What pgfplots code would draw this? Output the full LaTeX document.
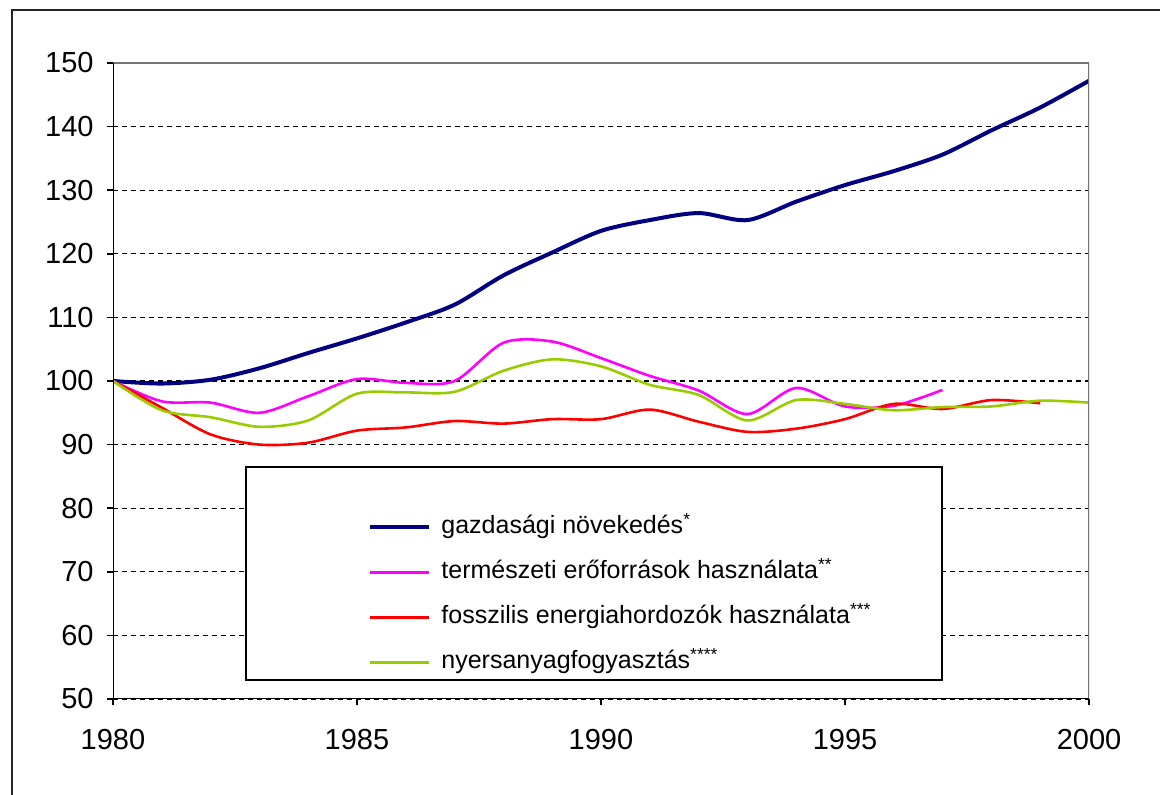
\documentclass[border=0pt]{standalone}
\usepackage{fontspec}
\setmainfont{Liberation Sans}
\usepackage{pgfplots}
\pgfplotsset{compat=1.18}
\definecolor{cblue}{RGB}{0,0,128}
\definecolor{cmag}{RGB}{255,0,255}
\definecolor{cred}{RGB}{255,0,0}
\definecolor{cgreen}{RGB}{153,204,0}
\begin{document}
\begin{tikzpicture}
\useasboundingbox (0pt,0pt) rectangle (580pt,397.5pt);
\draw[line width=1pt, black!85] (6pt,0pt) -- (6pt,392.5pt) -- (580pt,392.5pt);
\begin{axis}[
  at={(56.5pt,48pt)}, anchor=south west,
  scale only axis, width=488pt, height=318pt,
  xmin=1980, xmax=2000, ymin=50, ymax=150,
  xtick={1980,1985,1990,1995,2000},
  ytick={50,60,70,80,90,100,110,120,130,140,150},
  tick pos=left, tick align=outside, major tick length=3pt,
  tick style={black, line width=0.8pt},
  axis line style={draw=none},
  /pgf/number format/assume math mode=true,
  /pgf/number format/1000 sep={},
  ticklabel style={font=\fontsize{14.5}{16}\selectfont},
  yticklabel style={xshift=-3.2pt},
  xticklabel style={yshift=-8.5pt},
  ymajorgrids,
  grid style={black, line width=0.6pt, dash pattern=on 2.5pt off 2pt},
  legend image code/.code={\draw[#1] (0pt,0pt) -- (29.5pt,0pt);},
  legend style={at={(rel axis cs:0.2613,0.2885)}, anchor=north west,
    draw=none, fill=none, inner sep=0pt, row sep=11pt, column sep=5pt,
    font=\fontsize{12.5}{14}\selectfont,
    nodes={inner sep=0pt, text height=9pt, text depth=2.5pt},
    cells={anchor=west}},
  legend cell align=left,
]
\addplot[cblue, line width=2pt, smooth, tension=0.5] coordinates {
(1980,100) (1981,99.6) (1982,100.2) (1983,102.0) (1984,104.4) (1985,106.7)
(1986,109.2) (1987,112.0) (1988,116.6) (1989,120.2) (1990,123.6) (1991,125.3)
(1992,126.4) (1993,125.3) (1994,128.2) (1995,130.8) (1996,133.0) (1997,135.6)
(1998,139.4) (1999,143.0) (2000,147.2)};
\addlegendentry{gazdasági növekedés\textsuperscript{*}}
\addplot[cmag, line width=1.3pt, smooth, tension=0.5] coordinates {
(1980,100) (1981,96.8) (1982,96.6) (1983,95.0) (1984,97.6) (1985,100.3)
(1986,99.7) (1987,100.0) (1988,106.0) (1989,106.2) (1990,103.6) (1991,100.8)
(1992,98.5) (1993,94.8) (1994,98.9) (1995,96.0) (1996,96.1) (1997,98.6)};
\addlegendentry{természeti erőforrások használata\textsuperscript{**}}
\addplot[cred, line width=1.3pt, smooth, tension=0.5] coordinates {
(1980,100) (1981,95.8) (1982,91.6) (1983,90.0) (1984,90.3) (1985,92.2)
(1986,92.7) (1987,93.7) (1988,93.3) (1989,94.0) (1990,94.0) (1991,95.5)
(1992,93.6) (1993,92.0) (1994,92.5) (1995,94.0) (1996,96.4) (1997,95.6)
(1998,97.0) (1999,96.5)};
\addlegendentry{fosszilis energiahordozók használata\textsuperscript{***}}
\addplot[cgreen, line width=1.3pt, smooth, tension=0.5] coordinates {
(1980,100) (1981,95.4) (1982,94.3) (1983,92.8) (1984,93.8) (1985,98.0)
(1986,98.2) (1987,98.3) (1988,101.6) (1989,103.4) (1990,102.3) (1991,99.4)
(1992,97.8) (1993,93.8) (1994,97.0) (1995,96.4) (1996,95.4) (1997,95.9)
(1998,96.0) (1999,96.9) (2000,96.6)};
\addlegendentry{nyersanyagfogyasztás\textsuperscript{****}}
\draw[draw=black!55, line width=1pt] (rel axis cs:0,1) -- (rel axis cs:1,1) -- (rel axis cs:1,0);
\draw[draw=black, line width=1pt] (rel axis cs:0,1) -- (rel axis cs:0,0) -- (rel axis cs:1,0);
\draw[draw=black, fill=white, line width=1pt] (rel axis cs:0.1363,0.3648) rectangle (rel axis cs:0.8494,0.0299);
\end{axis}
\end{tikzpicture}
\end{document}
